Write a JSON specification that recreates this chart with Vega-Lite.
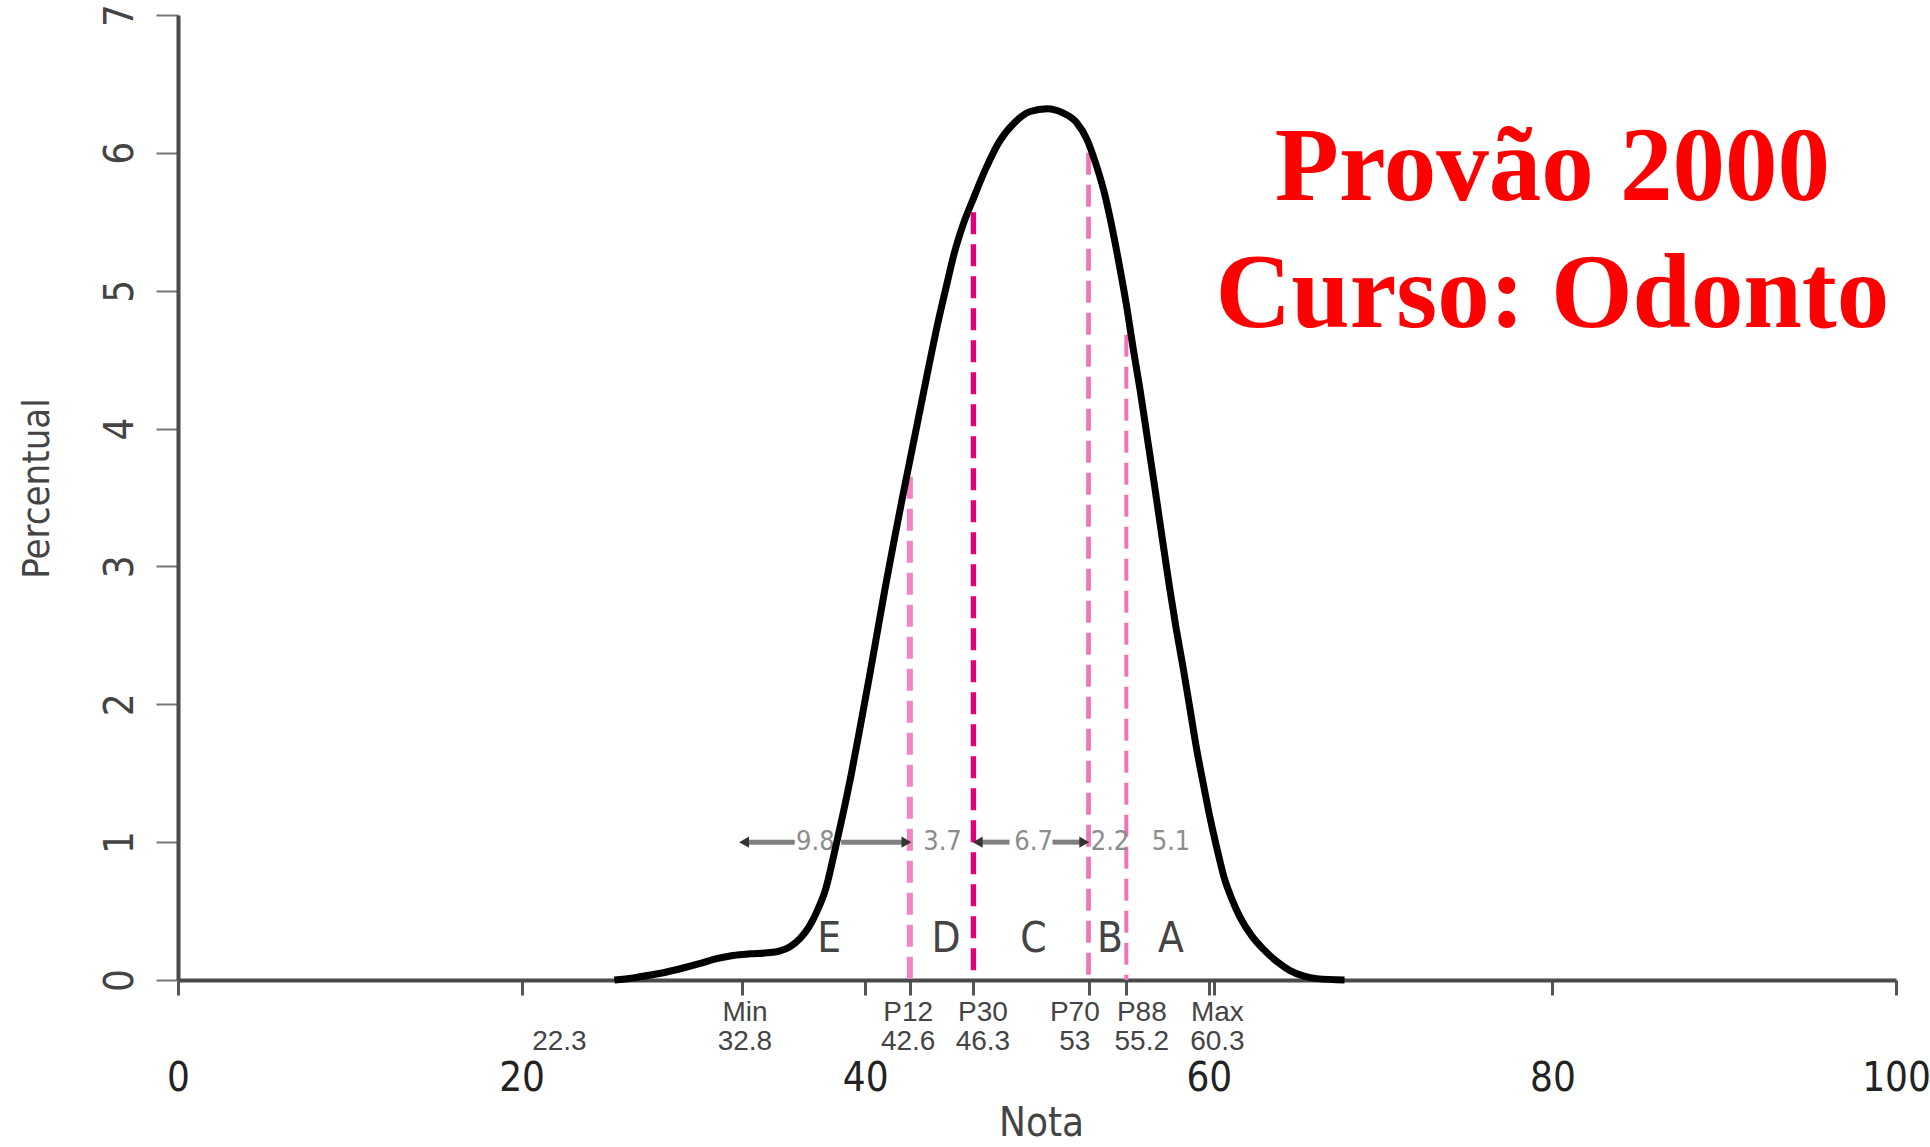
{
  "$schema": "https://vega.github.io/schema/vega-lite/v6.json",
  "width": 1718,
  "height": 965,
  "autosize": {"type": "none"},
  "padding": {"left": 178, "top": 15, "right": 34, "bottom": 167},
  "background": "white",
  "config": {"view": {"stroke": null}, "axis": {"grid": false}},
  "datasets": {
    "curva": [
      {"nota": 25.4, "percentual": 0},
      {"nota": 26.5, "percentual": 0.015},
      {"nota": 27.5, "percentual": 0.036},
      {"nota": 28.5, "percentual": 0.06},
      {"nota": 29.4, "percentual": 0.087},
      {"nota": 30.4, "percentual": 0.12},
      {"nota": 31.35, "percentual": 0.155},
      {"nota": 32.3, "percentual": 0.178},
      {"nota": 33.3, "percentual": 0.19},
      {"nota": 34.3, "percentual": 0.197},
      {"nota": 35.0, "percentual": 0.21},
      {"nota": 35.6, "percentual": 0.24},
      {"nota": 36.2, "percentual": 0.3},
      {"nota": 36.7, "percentual": 0.38},
      {"nota": 37.2, "percentual": 0.5},
      {"nota": 37.7, "percentual": 0.66},
      {"nota": 38.2, "percentual": 0.92},
      {"nota": 38.7, "percentual": 1.2},
      {"nota": 39.2, "percentual": 1.5},
      {"nota": 39.7, "percentual": 1.83},
      {"nota": 40.2, "percentual": 2.17},
      {"nota": 40.7, "percentual": 2.52},
      {"nota": 41.2, "percentual": 2.87},
      {"nota": 41.7, "percentual": 3.2},
      {"nota": 42.2, "percentual": 3.52},
      {"nota": 42.7, "percentual": 3.83},
      {"nota": 43.2, "percentual": 4.14},
      {"nota": 43.7, "percentual": 4.45},
      {"nota": 44.2, "percentual": 4.75},
      {"nota": 44.7, "percentual": 5.02},
      {"nota": 45.2, "percentual": 5.28},
      {"nota": 45.7, "percentual": 5.48},
      {"nota": 46.3, "percentual": 5.67},
      {"nota": 47.0, "percentual": 5.88},
      {"nota": 47.8, "percentual": 6.08},
      {"nota": 48.7, "percentual": 6.22},
      {"nota": 49.6, "percentual": 6.3},
      {"nota": 50.6, "percentual": 6.32},
      {"nota": 51.5, "percentual": 6.29},
      {"nota": 52.3, "percentual": 6.22},
      {"nota": 52.9, "percentual": 6.1},
      {"nota": 53.4, "percentual": 5.93},
      {"nota": 53.9, "percentual": 5.72},
      {"nota": 54.3, "percentual": 5.5},
      {"nota": 54.8, "percentual": 5.18},
      {"nota": 55.2, "percentual": 4.9},
      {"nota": 55.6, "percentual": 4.58},
      {"nota": 56.0, "percentual": 4.28},
      {"nota": 56.4, "percentual": 3.95},
      {"nota": 56.8, "percentual": 3.62},
      {"nota": 57.2, "percentual": 3.28},
      {"nota": 57.7, "percentual": 2.86},
      {"nota": 58.1, "percentual": 2.55},
      {"nota": 58.5, "percentual": 2.27},
      {"nota": 58.9, "percentual": 1.97},
      {"nota": 59.3, "percentual": 1.67},
      {"nota": 59.7, "percentual": 1.41},
      {"nota": 60.1, "percentual": 1.16},
      {"nota": 60.5, "percentual": 0.94},
      {"nota": 60.9, "percentual": 0.74},
      {"nota": 61.3, "percentual": 0.6},
      {"nota": 61.8, "percentual": 0.46},
      {"nota": 62.5, "percentual": 0.32},
      {"nota": 63.2, "percentual": 0.22},
      {"nota": 64.0, "percentual": 0.13},
      {"nota": 64.7, "percentual": 0.07},
      {"nota": 65.5, "percentual": 0.03},
      {"nota": 66.3, "percentual": 0.01},
      {"nota": 67.9, "percentual": 0}
    ],
    "percentis": [
      {"rotulo": "P12", "nota": 42.6, "topo": 3.65},
      {"rotulo": "P30", "nota": 46.3, "topo": 5.57},
      {"rotulo": "P70", "nota": 53.0, "topo": 6.0},
      {"rotulo": "P88", "nota": 55.2, "topo": 4.68}
    ],
    "setas": [
      {"nota": 33.2, "nota_fim": 35.9},
      {"nota": 38.6, "nota_fim": 42.3},
      {"nota": 46.7, "nota_fim": 48.4},
      {"nota": 50.9, "nota_fim": 52.6}
    ],
    "pontas": [
      {"nota": 32.95, "sentido": "esq"},
      {"nota": 42.4, "sentido": "dir"},
      {"nota": 46.55, "sentido": "esq"},
      {"nota": 52.75, "sentido": "dir"}
    ],
    "diferencas": [
      {"nota": 37.1, "rotulo": "9.8"},
      {"nota": 44.5, "rotulo": "3.7"},
      {"nota": 49.8, "rotulo": "6.7"},
      {"nota": 54.25, "rotulo": "2.2"},
      {"nota": 57.8, "rotulo": "5.1"}
    ],
    "conceitos": [
      {"nota": 37.9, "conceito": "E"},
      {"nota": 44.7, "conceito": "D"},
      {"nota": 49.8, "conceito": "C"},
      {"nota": 54.25, "conceito": "B"},
      {"nota": 57.8, "conceito": "A"}
    ],
    "marcos": [
      {"nota": 22.2, "nome": "", "valor": "22.3"},
      {"nota": 33.0, "nome": "Min", "valor": "32.8"},
      {"nota": 42.5, "nome": "P12", "valor": "42.6"},
      {"nota": 46.85, "nome": "P30", "valor": "46.3"},
      {"nota": 52.2, "nome": "P70", "valor": "53"},
      {"nota": 56.1, "nome": "P88", "valor": "55.2"},
      {"nota": 60.5, "nome": "Max", "valor": "60.3"}
    ]
  },
  "layer": [
    {
      "data": {"name": "percentis"},
      "mark": {"type": "rule", "strokeDash": [22, 10]},
      "encoding": {
        "x": {"field": "nota", "type": "quantitative"},
        "y": {"field": "topo", "type": "quantitative"},
        "y2": {"datum": 0},
        "color": {
          "field": "rotulo", "type": "nominal",
          "scale": {"domain": ["P12", "P30", "P70", "P88"], "range": ["#f384c2", "#e2007a", "#ee74b7", "#ee74b7"]},
          "legend": null
        },
        "strokeWidth": {
          "field": "rotulo", "type": "ordinal",
          "scale": {"domain": ["P12", "P30", "P70", "P88"], "range": [6, 4, 8, 8]},
          "legend": null
        }
      }
    },
    {
      "data": {"name": "setas"},
      "mark": {"type": "rule", "color": "#808080", "strokeWidth": 5},
      "encoding": {
        "x": {"field": "nota", "type": "quantitative"},
        "x2": {"field": "nota_fim"},
        "y": {"datum": 1, "type": "quantitative"}
      }
    },
    {
      "data": {"name": "pontas"},
      "mark": {"type": "point", "filled": true, "color": "#333333", "size": 130, "opacity": 1},
      "encoding": {
        "x": {"field": "nota", "type": "quantitative"},
        "y": {"datum": 1, "type": "quantitative"},
        "shape": {
          "field": "sentido", "type": "nominal",
          "scale": {"domain": ["esq", "dir"], "range": ["triangle-left", "triangle-right"]},
          "legend": null
        }
      }
    },
    {
      "data": {"name": "diferencas"},
      "mark": {"type": "text", "font": "DejaVu Sans Condensed, Liberation Sans, sans-serif", "fontSize": 27, "color": "#8c8c8c", "baseline": "middle", "align": "center"},
      "encoding": {
        "x": {"field": "nota", "type": "quantitative"},
        "y": {"datum": 1, "type": "quantitative"},
        "text": {"field": "rotulo"}
      }
    },
    {
      "data": {"name": "conceitos"},
      "mark": {"type": "text", "font": "DejaVu Sans Condensed, Liberation Sans, sans-serif", "fontSize": 42, "color": "#444444", "baseline": "alphabetic", "align": "center"},
      "encoding": {
        "x": {"field": "nota", "type": "quantitative"},
        "y": {"datum": 0.2, "type": "quantitative"},
        "text": {"field": "conceito"}
      }
    },
    {
      "data": {"name": "marcos"},
      "mark": {"type": "text", "font": "Liberation Sans, sans-serif", "fontSize": 28, "color": "#444444", "baseline": "alphabetic", "align": "center", "dy": 41},
      "encoding": {
        "x": {"field": "nota", "type": "quantitative"},
        "y": {"datum": 0, "type": "quantitative"},
        "text": {"field": "nome"}
      }
    },
    {
      "data": {"name": "marcos"},
      "mark": {"type": "text", "font": "Liberation Sans, sans-serif", "fontSize": 28, "color": "#444444", "baseline": "alphabetic", "align": "center", "dy": 70},
      "encoding": {
        "x": {"field": "nota", "type": "quantitative"},
        "y": {"datum": 0, "type": "quantitative"},
        "text": {"field": "valor"}
      }
    },
    {
      "data": {"name": "curva"},
      "mark": {"type": "line", "color": "black", "strokeWidth": 7, "interpolate": "monotone"},
      "encoding": {
        "x": {
          "field": "nota",
          "type": "quantitative",
          "scale": {"domain": [0, 100], "nice": false, "zero": false},
          "axis": {
            "title": "Nota",
            "values": [0, 20, 40, 60, 80, 100, 32.8, 42.6, 46.3, 53, 55.2, 60.3],
            "labelExpr": "datum.value % 20 == 0 ? datum.label : ''",
            "tickSize": 15,
            "tickWidth": 3,
            "tickColor": "#555555",
            "domainColor": "#4a4a4a",
            "domainWidth": 4,
            "labelFont": "DejaVu Sans Condensed, Liberation Sans, sans-serif",
            "labelFontSize": 40,
            "labelColor": "#222222",
            "labelBaseline": "alphabetic",
            "labelPadding": 95,
            "labelFlush": false,
            "labelOverlap": false,
            "labelBound": false,
            "titleFont": "DejaVu Sans Condensed, Liberation Sans, sans-serif",
            "titleFontSize": 40,
            "titleFontWeight": "normal",
            "titleColor": "#444444",
            "titleBaseline": "alphabetic",
            "titleAlign": "center",
            "titleX": 863,
            "titleY": 155
          }
        },
        "y": {
          "field": "percentual",
          "type": "quantitative",
          "scale": {"domain": [0, 7], "nice": false, "zero": true},
          "axis": {
            "title": "Percentual",
            "values": [0, 1, 2, 3, 4, 5, 6, 7],
            "format": "d",
            "tickSize": 22,
            "tickWidth": 2,
            "tickColor": "#777777",
            "domainColor": "#4a4a4a",
            "domainWidth": 4,
            "labelAngle": 270,
            "labelAlign": "center",
            "labelBaseline": "alphabetic",
            "labelPadding": 24,
            "labelFont": "DejaVu Sans Condensed, Liberation Sans, sans-serif",
            "labelFontSize": 40,
            "labelColor": "#444444",
            "labelFlush": false,
            "labelOverlap": false,
            "labelBound": false,
            "titleFont": "DejaVu Sans Condensed, Liberation Sans, sans-serif",
            "titleFontSize": 38,
            "titleFontWeight": "normal",
            "titleColor": "#444444",
            "titleAngle": 270,
            "titleBaseline": "alphabetic",
            "titleAlign": "center",
            "titleX": -130,
            "titleY": 473
          }
        }
      }
    },
    {
      "data": {"values": [{}]},
      "mark": {
        "type": "text", "font": "Liberation Serif", "fontWeight": "bold", "fontSize": 105,
        "color": "#ff0000", "align": "center", "baseline": "alphabetic", "lineHeight": 127,
        "text": ["Provão 2000", "Curso: Odonto"]
      },
      "encoding": {
        "x": {"datum": 80, "type": "quantitative"},
        "y": {"datum": 5.66, "type": "quantitative"}
      }
    }
  ]
}
